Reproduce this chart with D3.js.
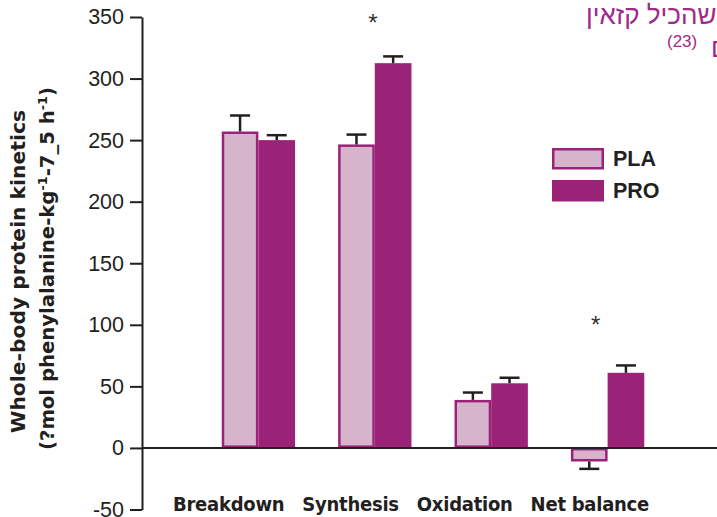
<!DOCTYPE html>
<html><head><meta charset="utf-8">
<script src="https://cdn.jsdelivr.net/npm/d3@7"></script>
<style>html,body{margin:0;padding:0;background:#fff;overflow:hidden} svg{display:block}</style>
</head><body>
<svg id="chart" width="717" height="517"></svg>
<script>
// ---- data ----
const categories = ["Breakdown", "Synthesis", "Oxidation", "Net balance"];
const series = ["PLA", "PRO"];
const plaValues = [257, 246.5, 39, -11];
const plaErrors = [13, 8, 6, 6];
const proValues = [250, 312.5, 52.5, 61];
const proErrors = [4, 5.5, 4.5, 6];
const asteriskLevels = [null, 348, null, 103];
const yTicks = [-50, 0, 50, 100, 150, 200, 250, 300, 350];
const yLabelLine1 = "Whole-body protein kinetics";
const yLabelLine2 = ["(?mol phenylalanine-kg", "-1", "-7_5 h", "-1", ")"];
const hebrewLine1 = "שהכיל קזאין";
const hebrewRef = "(23)";
const hebrewLine2Tail = "ם";

// ---- styles ----
const dark = "#231f20";
const plaFill = "#d6b5cc";
const plaStroke = "#9c2279";
const proFill = "#9a2378";
const hebColor = "#9e2a8c";
const condFont = "'DejaVu Sans', sans-serif";
const arialFont = "'Liberation Sans', Arial, sans-serif";
const asteriskDx = {"Net balance": -10};

const svg = d3.select("#chart");

const y = d3.scaleLinear().domain([-50, 350]).range([509.5, 17]);
const x0 = d3.scaleBand().domain(categories).range([200.2, 665.8])
  .paddingInner(0.37).paddingOuter(0.185);
const x1 = d3.scaleBand().domain(series).range([0, x0.bandwidth()]).padding(0);

const rows = categories.map((c, i) => ({
  cat: c,
  vals: [
    {s: "PLA", v: plaValues[i], e: plaErrors[i]},
    {s: "PRO", v: proValues[i], e: proErrors[i]}
  ]
}));

// bars
const groups = svg.append("g").selectAll("g").data(rows).join("g")
  .attr("transform", d => `translate(${x0(d.cat)},0)`);

groups.selectAll("rect").data(d => d.vals).join("rect")
  .attr("x", d => x1(d.s) + (d.s === "PLA" ? 1.25 : 0))
  .attr("width", d => x1.bandwidth() - (d.s === "PLA" ? 2.5 : 0))
  .attr("y", d => Math.min(y(d.v), y(0)) + (d.s === "PLA" ? 1.25 : 0))
  .attr("height", d => Math.abs(y(d.v) - y(0)) - (d.s === "PLA" ? 2.5 : 0))
  .attr("fill", d => d.s === "PLA" ? plaFill : proFill)
  .attr("stroke", d => d.s === "PLA" ? plaStroke : "none")
  .attr("stroke-width", 2.5);

// error bars
const eb = groups.selectAll("g.err").data(d => d.vals).join("g").attr("class", "err");
eb.append("line")
  .attr("x1", d => x1(d.s) + x1.bandwidth() / 2)
  .attr("x2", d => x1(d.s) + x1.bandwidth() / 2)
  .attr("y1", d => y(d.v))
  .attr("y2", d => y(d.v + Math.sign(d.v) * d.e))
  .attr("stroke", dark).attr("stroke-width", 2.5);
eb.append("line")
  .attr("x1", d => x1(d.s) + x1.bandwidth() / 2 - 10)
  .attr("x2", d => x1(d.s) + x1.bandwidth() / 2 + 10)
  .attr("y1", d => y(d.v + Math.sign(d.v) * d.e))
  .attr("y2", d => y(d.v + Math.sign(d.v) * d.e))
  .attr("stroke", dark).attr("stroke-width", 2.5);

// baseline
svg.append("line")
  .attr("x1", 142).attr("x2", 717)
  .attr("y1", y(0)).attr("y2", y(0))
  .attr("stroke", dark).attr("stroke-width", 2);

// y axis
const yAxis = svg.append("g").attr("transform", "translate(142,0)")
  .call(d3.axisLeft(y).tickValues(yTicks).tickSize(12).tickSizeOuter(0).tickPadding(6)
    .tickFormat(d => String(d)));
yAxis.select(".domain").attr("stroke", dark).attr("stroke-width", 2);
yAxis.selectAll(".tick line").attr("stroke", dark).attr("stroke-width", 2);
yAxis.selectAll(".tick text").attr("fill", dark)
  .style("font-family", arialFont).style("font-size", "21.5px");

// asterisks
svg.append("g").selectAll("text")
  .data(categories.map((c, i) => ({c, lv: asteriskLevels[i]})).filter(d => d.lv !== null))
  .join("text")
  .attr("x", d => x0(d.c) + x0.bandwidth() / 2 - 2 + (asteriskDx[d.c] || 0))
  .attr("y", d => y(d.lv) + 12)
  .attr("text-anchor", "middle")
  .attr("fill", "#333")
  .style("font-family", arialFont).style("font-size", "24px")
  .text("*");

// category labels (one line of text)
const catText = svg.append("text")
  .attr("x", x0(categories[0]) - 48.7)
  .attr("y", 511)
  .attr("fill", dark)
  .style("font-family", condFont).style("font-stretch", "condensed")
  .style("font-weight", "bold").style("font-size", "20px")
  .style("letter-spacing", "-0.25px");
catText.selectAll("tspan").data(categories).join("tspan")
  .attr("dx", (d, i) => i === 0 ? 0 : 18)
  .text(d => d);

// y axis label
svg.append("text")
  .attr("transform", "translate(25,271.5) rotate(-90)")
  .attr("text-anchor", "middle")
  .attr("fill", dark)
  .attr("textLength", 323).attr("lengthAdjust", "spacingAndGlyphs")
  .style("font-family", condFont).style("font-stretch", "condensed")
  .style("font-weight", "bold").style("font-size", "20px")
  .text(yLabelLine1);
const l2 = svg.append("text")
  .attr("transform", "translate(54,268.5) rotate(-90)")
  .attr("text-anchor", "middle")
  .attr("fill", dark)
  .attr("textLength", 363).attr("lengthAdjust", "spacingAndGlyphs")
  .style("font-family", condFont).style("font-stretch", "condensed")
  .style("font-weight", "bold").style("font-size", "20px");
yLabelLine2.forEach((t, i) => {
  const sp = l2.append("tspan").text(t);
  if (i % 2 === 1) sp.attr("baseline-shift", "super").style("font-size", "13px");
});

// legend
const legend = svg.append("g");
series.forEach((s, i) => {
  const gy = 148 + i * 32;
  legend.append("rect")
    .attr("x", s === "PLA" ? 553.25 : 552).attr("y", s === "PLA" ? gy + 1.25 : gy)
    .attr("width", s === "PLA" ? 49.5 : 52).attr("height", s === "PLA" ? 19 : 21.5)
    .attr("fill", s === "PLA" ? plaFill : proFill)
    .attr("stroke", s === "PLA" ? plaStroke : "none").attr("stroke-width", 2.5);
  legend.append("text")
    .attr("x", 613).attr("y", gy + 17.5)
    .attr("fill", dark)
    .style("font-family", arialFont).style("font-weight", "bold").style("font-size", "21.5px")
    .text(s);
});

// hebrew fragment (top right, clipped in the source)
svg.append("text")
  .attr("x", 586).attr("y", 24)
  .attr("fill", hebColor)
  .style("font-family", arialFont).style("font-size", "26px")
  .text(hebrewLine1);
svg.append("text")
  .attr("x", 667).attr("y", 47)
  .attr("fill", hebColor)
  .style("font-family", arialFont).style("font-size", "17px")
  .text(hebrewRef);
svg.append("text")
  .attr("x", 711).attr("y", 57)
  .attr("fill", hebColor)
  .style("font-family", arialFont).style("font-size", "26px")
  .text(hebrewLine2Tail);
</script>
</body></html>
